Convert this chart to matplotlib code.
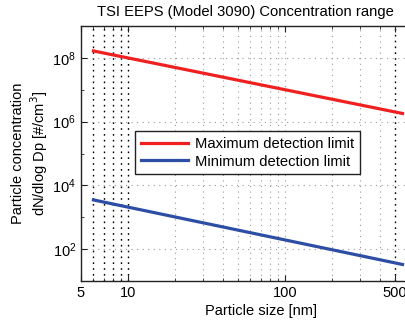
import matplotlib
matplotlib.use("Agg")
import matplotlib.pyplot as plt
from matplotlib.ticker import FixedLocator, NullFormatter

plt.rcParams["font.family"] = ["Liberation Sans", "DejaVu Sans"]

# particle size range of the instrument [nm]
sizes = [6, 560]
max_limit = [1.65e8, 1.8e6]
min_limit = [3.5e3, 33]

xticks = [5, 10, 100, 500]
xtick_labels = ["5", "10", "100", "500"]
yticks = [1e2, 1e4, 1e6, 1e8]
dark_grid = [6, 7, 8, 9, 10, 500]
light_grid = [20, 30, 40, 50, 60, 70, 80, 90, 100, 200, 300, 400]

fig = plt.figure(figsize=(4.06, 3.24), dpi=100)
# axes runs past the right edge of the picture (figure was cropped)
ax = fig.add_axes([81 / 406, 1 - 281 / 324, 361 / 406, 255 / 324])

ax.set_xscale("log")
ax.set_yscale("log")
ax.set_xlim(5, 1000)
ax.set_ylim(1e1, 1e9)

# grid lines, matlab style
for g in light_grid:
    ax.axvline(g, color="#9a9a9a", lw=0.8, ls=(0, (1, 4)), zorder=1)
for g in dark_grid:
    ax.axvline(g, color="black", lw=1.0, ls=(0, (1.2, 3)), zorder=1)
for g in yticks:
    ax.axhline(g, color="#9a9a9a", lw=0.8, ls=(0, (1, 4)), zorder=1)

ax.plot(sizes, max_limit, color="#f02020", lw=2.3, label="Maximum detection limit", zorder=3)
ax.plot(sizes, min_limit, color="#2e4ea6", lw=2.3, label="Minimum detection limit", zorder=3)

ax.xaxis.set_major_locator(FixedLocator(xticks))
ax.set_xticklabels(xtick_labels)
ax.xaxis.set_minor_locator(FixedLocator(dark_grid[:-2] + light_grid))
ax.xaxis.set_minor_formatter(NullFormatter())
ax.yaxis.set_major_locator(FixedLocator(yticks))
ax.yaxis.set_minor_locator(FixedLocator([1e3, 1e5, 1e7]))
ax.yaxis.set_minor_formatter(NullFormatter())
ax.tick_params(which="both", direction="in", top=True, right=False, labelsize=10.5, color="#222222")
ax.tick_params(which="major", length=4)
ax.tick_params(which="minor", length=2)

for side in ["left", "bottom", "top"]:
    ax.spines[side].set_linewidth(1.0)
    ax.spines[side].set_color("#222222")
ax.spines["right"].set_visible(False)

ax.set_xlabel("Particle size [nm]", fontsize=10.5, labelpad=3)
ax.set_ylabel("Particle concentration\ndN/dlog Dp [#/cm$^3$]", fontsize=10.5, labelpad=2)
fig.text(245 / 406, 1 - 12 / 324, "TSI EEPS (Model 3090) Concentration range",
         ha="center", va="center", fontsize=10.6)

leg = ax.legend(loc="upper left", bbox_to_anchor=(135 / 406, 1 - 131 / 324),
                bbox_transform=fig.transFigure, fontsize=10.6, frameon=True,
                fancybox=False, edgecolor="#222222", framealpha=1,
                handlelength=3.2, borderpad=0.4, labelspacing=0.25, handletextpad=0.5,
                borderaxespad=0)
leg.get_frame().set_linewidth(1.0)

fig.savefig("out.png", dpi=100)
